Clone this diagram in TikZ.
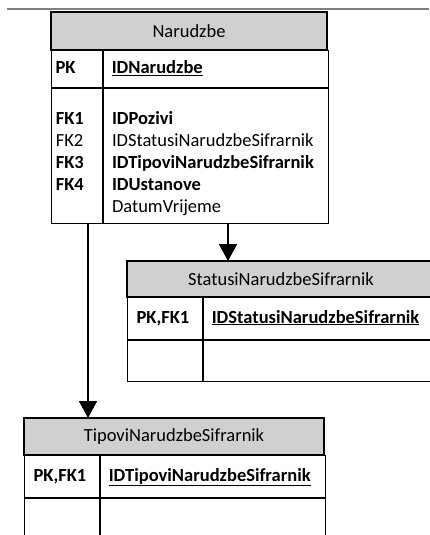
\documentclass[tikz,border=0pt]{standalone}
\usepackage{fontspec}
\setmainfont{Carlito}
\usepackage{tikz}
\usepackage{xcolor}
\usetikzlibrary{matrix,arrows.meta}

\definecolor{headgray}{RGB}{208,208,208}
\definecolor{rulegray}{RGB}{128,128,128}

\tikzset{
  erfont/.style={font=\fontsize{18.5}{22}\selectfont},
  tblhead/.style={draw, fill=headgray, line width=1.2pt, erfont,
                  inner sep=0pt, outer sep=0pt, anchor=north west},
  tblbody/.style={matrix of nodes, nodes in empty cells,
                  anchor=north west, inner sep=0pt, outer sep=0pt,
                  column sep=0pt, row sep=0pt,
                  nodes={draw, line width=1.2pt, erfont, align=left, anchor=center,
                         inner ysep=0pt, outer sep=0pt, text height=13pt, text depth=4pt}},
  fkarrow/.style={line width=1.6pt, -{Triangle[width=18pt,length=17pt]}},
}

\begin{document}
\begin{tikzpicture}[x=1pt,y=-1pt]
      \useasboundingbox (0,0) rectangle (429,535);
      \draw[rulegray, line width=2pt] (7,8.7) -- (429,8.7);

      % Narudzbe
      \node[tblhead, minimum width=276pt, minimum height=38pt] (narH) at (51,12) {Narudzbe};
      \matrix[tblbody,
              column 1/.style={nodes={text width=43pt, inner xsep=4pt}},
              column 2/.style={nodes={text width=209pt, inner xsep=8pt}},
              row 1/.style={nodes={minimum height=37pt}},
              row 2/.style={nodes={minimum height=135pt}}] (nar) at (narH.south west) {
        \textbf{PK} & \textbf{\underline{IDNarudzbe}} \\
        & \\
      };
      \node[erfont, anchor=north west, inner sep=0pt, align=left] (narKeys)
        at ([xshift=4pt,yshift=-23pt]nar-2-1.north west)
        {\textbf{FK1}\\FK2\\\textbf{FK3}\\\textbf{FK4}};
      \node[erfont, anchor=north west, inner sep=0pt, align=left] (narFields)
        at ([xshift=8pt,yshift=-23pt]nar-2-2.north west)
        {\textbf{IDPozivi}\\IDStatusiNarudzbeSifrarnik\\\textbf{IDTipoviNarudzbeSifrarnik}\\\textbf{IDUstanove}\\DatumVrijeme};

      % StatusiNarudzbeSifrarnik
      \node[tblhead, minimum width=308pt, minimum height=36pt] (statH) at (127,261) {StatusiNarudzbeSifrarnik};
      \matrix[tblbody,
              column 1/.style={nodes={text width=57pt, inner xsep=9pt}},
              column 2/.style={nodes={text width=217pt, inner xsep=8pt}},
              row 1/.style={nodes={minimum height=42pt}},
              row 2/.style={nodes={minimum height=41pt}}] (stat) at (statH.south west) {
        \textbf{PK,FK1} & \textbf{\underline{IDStatusiNarudzbeSifrarnik}} \\
        & \\
      };

      % TipoviNarudzbeSifrarnik
      \node[tblhead, minimum width=300pt, minimum height=37pt] (tipH) at (24,418) {TipoviNarudzbeSifrarnik};
      \matrix[tblbody,
              column 1/.style={nodes={text width=57pt, inner xsep=9pt}},
              column 2/.style={nodes={text width=209pt, inner xsep=8pt}},
              row 1/.style={nodes={minimum height=42pt}},
              row 2/.style={nodes={minimum height=63pt}}] (tip) at (tipH.south west) {
        \textbf{PK,FK1} & \textbf{\underline{IDTipoviNarudzbeSifrarnik}} \\
        & \\
      };

      \draw[fkarrow] ([xshift=101pt]statH.north west |- nar.south) -- ([xshift=101pt]statH.north west);
      \draw[fkarrow] ([xshift=64pt]tipH.north west |- nar.south) -- ([xshift=64pt]tipH.north west);
\end{tikzpicture}
\end{document}
